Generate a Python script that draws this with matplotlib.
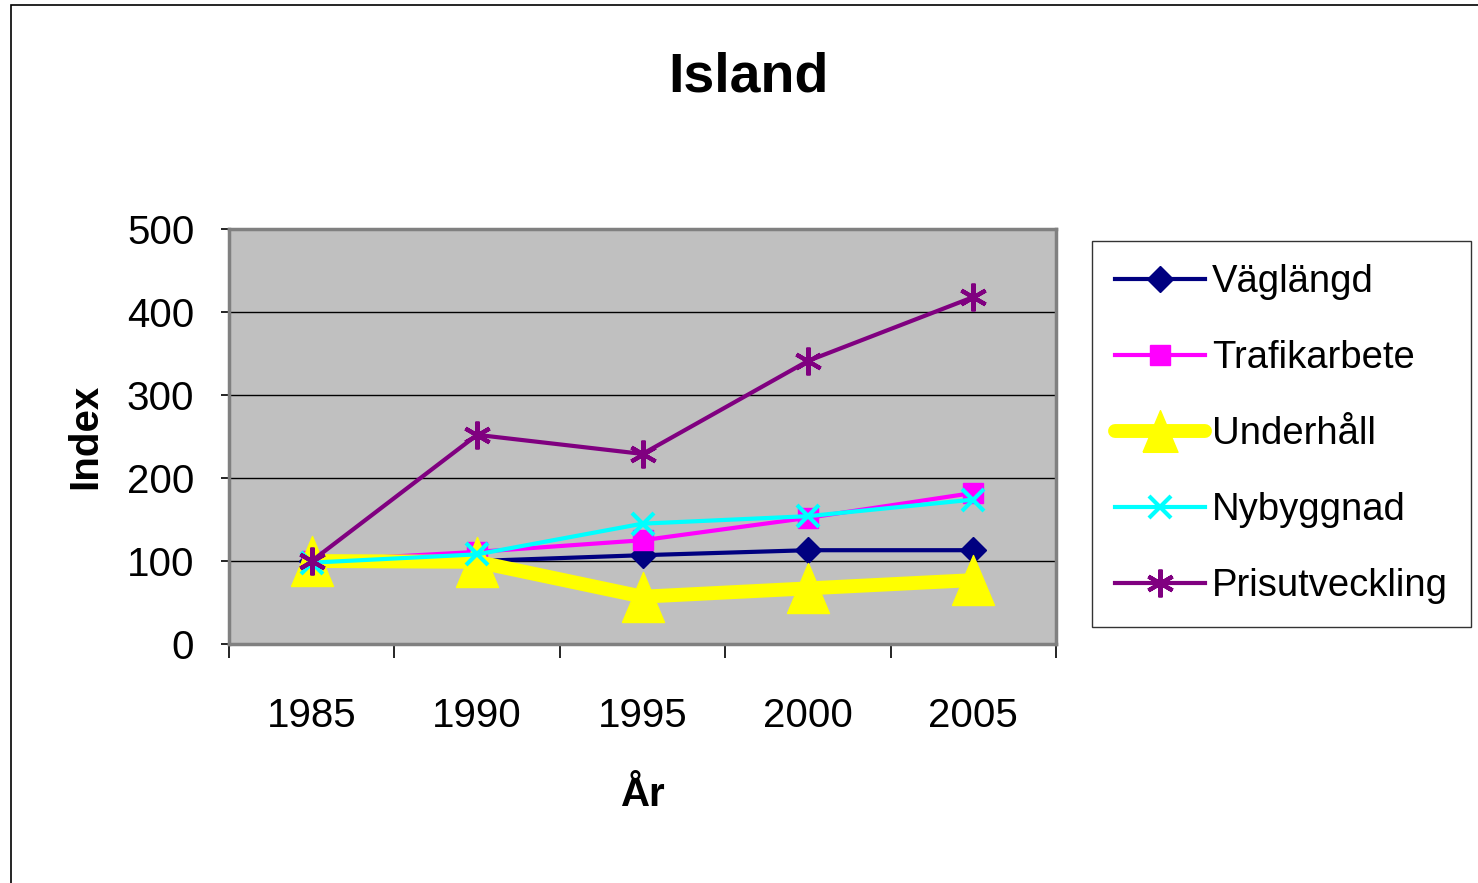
import matplotlib
matplotlib.use("Agg")
import matplotlib.pyplot as plt
from matplotlib.patches import Rectangle

plt.rcParams["font.family"] = ["Liberation Sans", "DejaVu Sans"]

# Data
years = ["1985", "1990", "1995", "2000", "2005"]
vaglangd = [100, 100, 107, 113, 113]
trafikarbete = [100, 111, 125, 152, 182]
underhall = [100, 99, 57, 67, 77]
nybyggnad = [98, 108, 145, 154, 174]
prisutveckling = [100, 252, 229, 341, 418]

# tall triangle like the Excel marker
tri = [(-0.42, -0.5), (0, 0.5), (0.42, -0.5), (-0.42, -0.5)]

fig = plt.figure(figsize=(14.78, 8.83), dpi=100)
ax = fig.add_axes([229 / 1478, 1 - 644 / 883, (1056 - 229) / 1478, (644 - 229) / 883])
ax.set_facecolor("#C0C0C0")

x = list(range(len(years)))
ax.plot(x, vaglangd, color="#000080", lw=3, marker="D", ms=13, label="Väglängd")
ax.plot(x, trafikarbete, color="#FF00FF", lw=3, marker="s", ms=14, label="Trafikarbete")
ax.plot(x, underhall, color="#FFFF00", lw=10, marker=tri, ms=36, solid_capstyle="round",
        label="Underhåll")
ax.plot(x, nybyggnad, color="#00FFFF", lw=3, marker="x", ms=16, mew=3, label="Nybyggnad")
ax.plot(x, prisutveckling, color="#800080", lw=3, marker=(6, 2, 0), ms=20, mew=3,
        label="Prisutveckling")

ax.set_xlim(-0.5, 4.5)
ax.set_ylim(0, 500)
ax.set_yticks([0, 100, 200, 300, 400, 500])
ax.yaxis.grid(True, color="black", lw=1)
ax.set_axisbelow(True)

# category boundaries as major ticks, labels on minor ticks
ax.set_xticks([-0.5, 0.5, 1.5, 2.5, 3.5, 4.5])
ax.set_xticklabels([])
ax.set_xticks(x, minor=True)
ax.set_xticklabels(years, minor=True)
ax.tick_params(axis="x", which="major", direction="out", length=10, width=1.2)
ax.tick_params(axis="x", which="minor", length=0, pad=38, labelsize=29)
ax.tick_params(axis="y", direction="out", length=6, width=1.2, pad=19, labelsize=29)

for s in ax.spines.values():
    s.set_color("#808080")
    s.set_linewidth(2.5)

ax.set_xlabel("År", fontsize=29, fontweight="bold", labelpad=30)
ax.set_ylabel("Index", fontsize=29, fontweight="bold", labelpad=16)
fig.text(748 / 1478, 1 - 77 / 883, "Island", fontsize=40, fontweight="bold",
         ha="center", va="center")

leg = fig.legend(loc="upper left", bbox_to_anchor=(1092 / 1478, 1 - 241 / 883),
                 fontsize=27.5, frameon=True, fancybox=False, edgecolor="black",
                 handlelength=2.35, labelspacing=1.05, borderpad=0.6, handletextpad=0.2,
                 borderaxespad=0)
leg.get_frame().set_linewidth(1)
for h in leg.legend_handles:
    if h.get_label() == "Underhåll":
        h.set_markersize(30)

# outer chart border
fig.patches.append(Rectangle((11 / 1478, -0.1), 1.2, 0.1 + (1 - 5 / 883),
                             transform=fig.transFigure, fill=False, edgecolor="black",
                             lw=1.2))

fig.savefig("out.png", dpi=100)
